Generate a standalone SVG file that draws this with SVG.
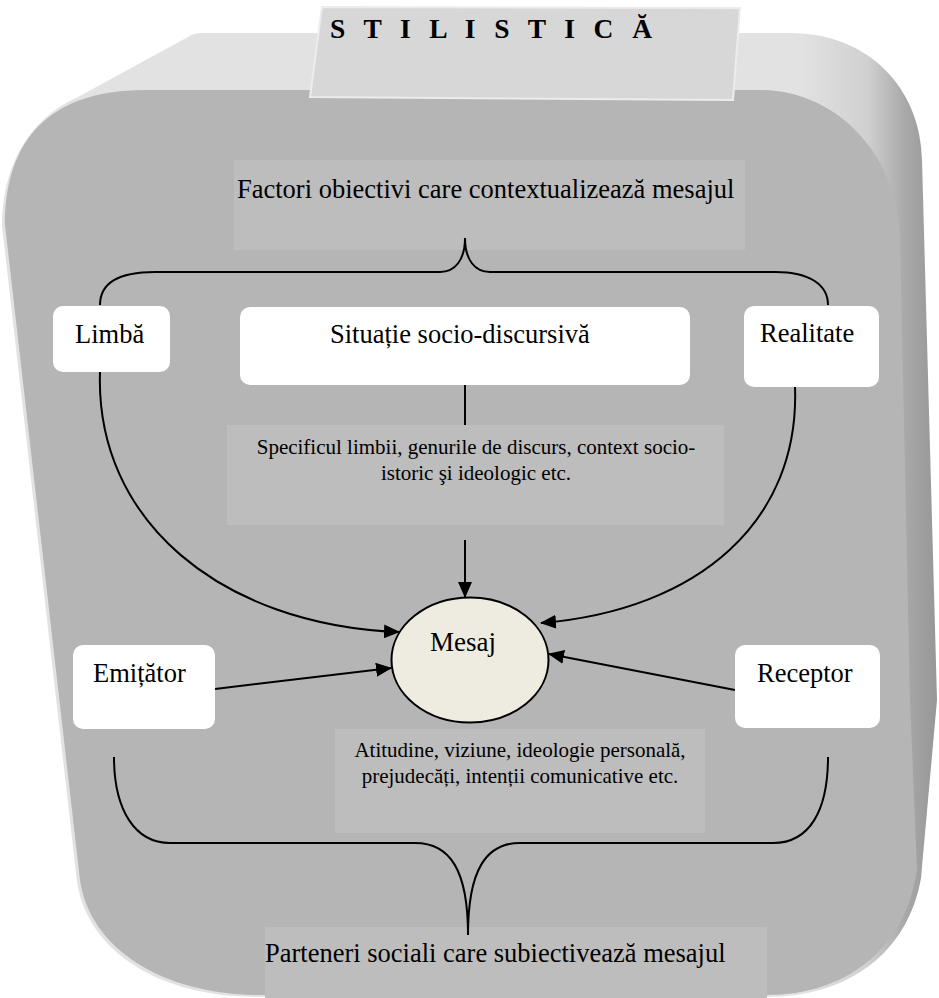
<svg xmlns="http://www.w3.org/2000/svg" width="939" height="998" viewBox="0 0 939 998">
<defs>
<linearGradient id="side" gradientUnits="userSpaceOnUse" x1="800" y1="0" x2="935" y2="0">
<stop offset="0" stop-color="#e2e2e2"/>
<stop offset="0.5" stop-color="#d0d0d0"/>
<stop offset="0.78" stop-color="#a8a8a8"/>
<stop offset="1" stop-color="#989898"/>
</linearGradient>
<marker id="ah" markerUnits="userSpaceOnUse" markerWidth="16" markerHeight="14" refX="15" refY="7" orient="auto">
<path d="M0,0 L16,7 L0,14 Z" fill="#000"/>
</marker>
</defs>
<style>
.lbl{font-family:"Liberation Serif","Times New Roman",serif;font-size:26.5px;fill:#000}
.sm{font-size:21px}
.node{fill:#ffffff}
.tbox{fill:#bdbdbd}
.conn{fill:none;stroke:#000;stroke-width:2}
.arr{fill:none;stroke:#000;stroke-width:2;marker-end:url(#ah)}
</style>
<g id="frame">
<path d="M 202,33 L 790,33 C 870,33 921,90 922,160 L 937,700 L 921,878 C 908,953 848,997 767,997 L 258,997 C 160,997 88,952 77,882 L 2,226 C 2,165 30,118 78,97 L 188,37 C 192,34 196,33 202,33 Z" fill="url(#side)"/>
<path d="M 145,90 L 760,90 C 840,90 900,160 900,240 L 910,700 L 917,870 C 905,950 845,995 767,995 L 260,995 C 165,995 90,950 80,880 L 5,225 C 5,150 40,90 145,90 Z" fill="#b5b5b5"/>
</g>
<g id="title">
<polygon points="322,7 740,8 733,100 310,97" fill="#d7d7d7" stroke="#ececec" stroke-width="2"/>
<text class="lbl" x="330" y="38" style="font-weight:bold;font-size:27.5px" textLength="322" lengthAdjust="spacing">S T I L I S T I C Ă</text>
</g>
<g id="factori">
<rect class="tbox" x="234" y="160" width="511" height="90"/>
<text class="lbl" x="237" y="198">Factori obiectivi care contextualizează mesajul</text>
</g>
<g id="specificul">
<rect class="tbox" x="227" y="425" width="497" height="100"/>
<text class="lbl sm" x="476" y="454" text-anchor="middle">Specificul limbii, genurile de discurs, context socio-</text>
<text class="lbl sm" x="476" y="480" text-anchor="middle">istoric şi ideologic etc.</text>
</g>
<g id="atitudine">
<rect class="tbox" x="335" y="729" width="370" height="104"/>
<text class="lbl sm" x="520" y="757" text-anchor="middle">Atitudine, viziune, ideologie personală,</text>
<text class="lbl sm" x="520" y="783" text-anchor="middle">prejudecăți, intenții comunicative etc.</text>
</g>
<g id="parteneri">
<rect class="tbox" x="265" y="927" width="502" height="71"/>
<text class="lbl" x="265" y="962">Parteneri sociali care subiectivează mesajul</text>
</g>
<g id="connectors">
<path class="conn" d="M 100,305 C 100,285 115,272 155,272 L 440,272 C 455,272 465,260 465,238 C 465,260 475,272 490,272 L 775,272 C 810,272 828,285 828,305"/>
<path class="conn" d="M 114,757 C 114,810 135,843 170,843 L 415,843 C 450,843 468,870 468,935 C 468,870 486,843 520,843 L 773,843 C 810,843 828,810 828,757"/>
<line class="conn" x1="465" y1="385" x2="465" y2="425"/>
<line class="arr" x1="465" y1="540" x2="465" y2="597"/>
<path class="arr" d="M 100,372 C 95,520 220,625 399,632"/>
<path class="arr" d="M 795,387 C 800,520 700,610 541,623"/>
<line class="arr" x1="215" y1="689" x2="391" y2="668"/>
<line class="arr" x1="735" y1="690" x2="549" y2="654"/>
</g>
<g id="limba">
<rect class="node" x="53" y="306" width="117" height="66" rx="10"/>
<text class="lbl" x="75" y="343">Limbă</text>
</g>
<g id="situatie">
<rect class="node" x="240" y="307" width="450" height="78" rx="10"/>
<text class="lbl" x="330" y="343">Situație socio-discursivă</text>
</g>
<g id="realitate">
<rect class="node" x="744" y="306" width="135" height="81" rx="10"/>
<text class="lbl" x="760" y="342">Realitate</text>
</g>
<g id="mesaj">
<ellipse cx="470" cy="660" rx="78.5" ry="62.5" fill="#eeece1" stroke="#000" stroke-width="2"/>
<text class="lbl" x="430" y="651" style="font-size:27px">Mesaj</text>
</g>
<g id="emitator">
<rect class="node" x="73" y="645" width="142" height="84" rx="10"/>
<text class="lbl" x="93" y="682">Emițător</text>
</g>
<g id="receptor">
<rect class="node" x="735" y="645" width="145" height="83" rx="10"/>
<text class="lbl" x="757" y="682">Receptor</text>
</g>
</svg>
